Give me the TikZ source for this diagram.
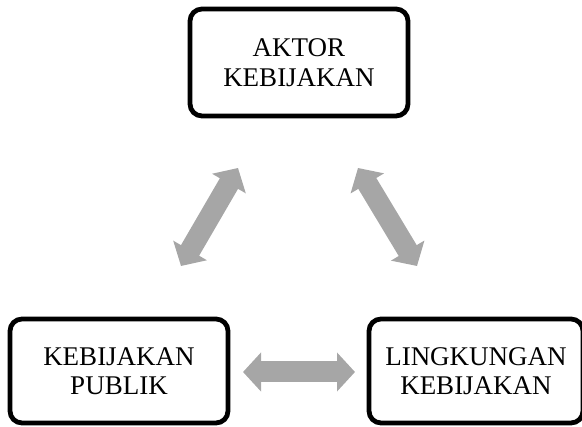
\documentclass[tikz,border=0pt]{standalone}
\usepackage{fontspec}
\setmainfont{Liberation Serif}
\usetikzlibrary{arrows.meta}
\definecolor{arrowgray}{RGB}{166,166,166}
\tikzset{
  box/.style={draw=black, line width=4.8pt, rounded corners=12pt,
    align=center, inner sep=0pt, text=black,
    font=\fontsize{27}{29.5}\selectfont},
  link/.style={draw=arrowgray, line width=21pt,
    {Triangle[width=38pt,length=18pt]}-{Triangle[width=38pt,length=18pt]}}
}
\begin{document}
\begin{tikzpicture}[x=1pt, y=-1pt]
  \useasboundingbox (0,0) rectangle (582,427);
  % three policy components
  \node[box, minimum width=218pt, minimum height=107pt] (aktor) at (299,62.5)
    {AKTOR\\KEBIJAKAN};
  \node[box, minimum width=218pt, minimum height=104pt] (publik) at (119,371)
    {KEBIJAKAN\\PUBLIK};
  \node[box, minimum width=214pt, minimum height=104pt] (lingkungan) at (476,371)
    {LINGKUNGAN\\KEBIJAKAN};
  % ends of the two-way arrows
  \coordinate (pa1) at (181,266);
  \coordinate (pa2) at (238,168);
  \coordinate (la1) at (358,168);
  \coordinate (la2) at (417,266);
  \coordinate (pl1) at (243,372);
  \coordinate (pl2) at (355,372);
  % two-way relations
  \draw[link] (pa1) -- (pa2);
  \draw[link] (la1) -- (la2);
  \draw[link] (pl1) -- (pl2);
\end{tikzpicture}
\end{document}
